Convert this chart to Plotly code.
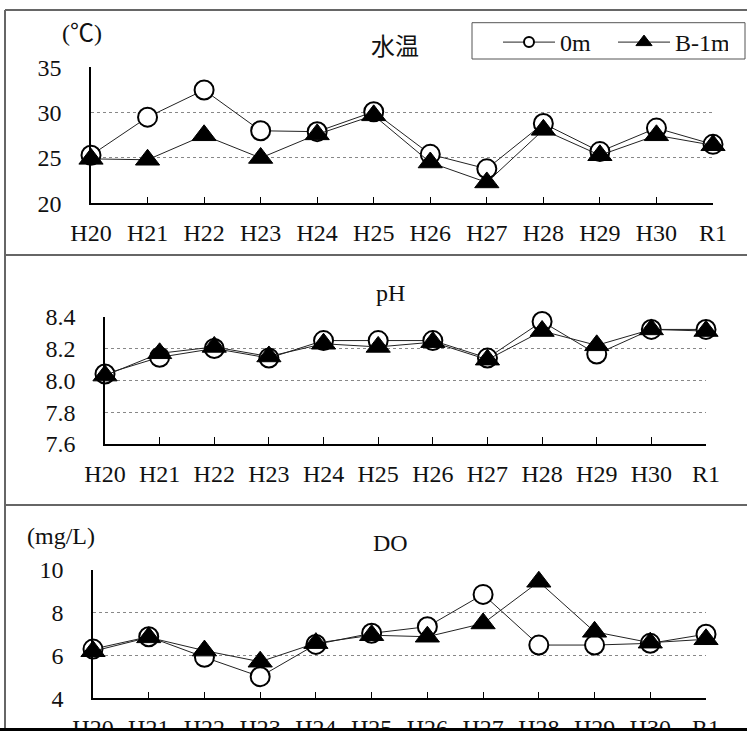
import plotly.graph_objects as go

W, H = 747, 731

categories = ["H20", "H21", "H22", "H23", "H24", "H25", "H26", "H27", "H28", "H29", "H30", "R1"]
temp_0m = [25.3, 29.5, 32.5, 28.0, 27.9, 30.1, 25.4, 23.8, 28.8, 25.7, 28.3, 26.5]
temp_b1m = [24.9, 24.8, 27.5, 25.0, 27.6, 29.7, 24.5, 22.3, 28.1, 25.3, 27.5, 26.4]
ph_0m = [8.04, 8.145, 8.20, 8.14, 8.25, 8.25, 8.25, 8.14, 8.37, 8.165, 8.32, 8.32]
ph_b1m = [8.03, 8.17, 8.21, 8.15, 8.23, 8.21, 8.24, 8.13, 8.31, 8.22, 8.32, 8.31]
do_0m = [6.3, 6.88, 5.92, 5.01, 6.52, 7.04, 7.35, 8.86, 6.49, 6.49, 6.57, 7.0]
do_b1m = [6.2, 6.85, 6.23, 5.71, 6.58, 6.95, 6.88, 7.5, 9.45, 7.11, 6.6, 6.76]
series_names = ["0m", "B-1m"]
panel_titles = ["水温", "pH", "DO"]
unit_labels = ["(℃)", "(mg/L)"]

FONT = "Liberation Serif"
FONT_CJK = "Liberation Serif, Noto Sans CJK JP"
FS = 24


def px(x):
    return x / W


def py(y):
    return 1 - y / H


xpos = list(range(len(categories)))

fig = go.Figure()

panels = [
    (temp_0m, temp_b1m, "x", "y"),
    (ph_0m, ph_b1m, "x2", "y2"),
    (do_0m, do_b1m, "x3", "y3"),
]

for s0, s1, xa, ya in panels:
    fig.add_trace(go.Scatter(
        x=xpos, y=s0, xaxis=xa, yaxis=ya, name=series_names[0], showlegend=False,
        mode="lines+markers", cliponaxis=False,
        line=dict(color="#222", width=1),
        marker=dict(symbol="circle", size=19, color="white", line=dict(color="black", width=2)),
    ))
    fig.add_trace(go.Scatter(
        x=xpos, y=s1, xaxis=xa, yaxis=ya, name=series_names[1], showlegend=False,
        mode="lines+markers", cliponaxis=False,
        line=dict(color="#222", width=1),
        marker=dict(symbol="triangle-up", size=21, color="black", line=dict(color="black", width=1)),
    ))

# legend entries (smaller legend symbols as in the original)
fig.add_trace(go.Scatter(
    x=[None], y=[None], name=series_names[0], mode="lines+markers",
    line=dict(color="#222", width=1),
    marker=dict(symbol="circle", size=10, color="white", line=dict(color="black", width=2)),
))
fig.add_trace(go.Scatter(
    x=[None], y=[None], name=series_names[1], mode="lines+markers",
    line=dict(color="#222", width=1),
    marker=dict(symbol="triangle-up", size=14, color="black", line=dict(color="black", width=1)),
))

# panel geometry in pixels: (left, right, top, bottom)
geo = [(91, 713, 67.3, 203.3), (105, 706, 316.7, 444), (93, 706, 570, 698.3)]
yranges = [[20, 35], [7.6, 8.4], [4, 10]]
dticks = [5, 0.2, 2]
fmts = ["d", ".1f", "d"]

axis_font = dict(family=FONT, size=FS, color="#111")
layout_axes = {}
for i, ((l, r, t, b), yr, dt, fm) in enumerate(zip(geo, yranges, dticks, fmts)):
    sx = "" if i == 0 else str(i + 1)
    layout_axes["xaxis" + sx] = dict(
        domain=[px(l), px(r)], anchor="y" + sx, range=[0, len(categories) - 1],
        tickmode="array", tickvals=xpos, ticktext=categories, automargin=False,
        showgrid=False, zeroline=False, showline=True, linecolor="black", linewidth=1.5,
        ticks="inside", ticklen=7, tickwidth=1, tickcolor="black",
        tickfont=axis_font, ticklabelstandoff=7,
    )
    layout_axes["yaxis" + sx] = dict(
        domain=[py(b), py(t)], anchor="x" + sx, range=yr, dtick=dt, tick0=yr[0],
        tickformat=fm, showgrid=True, gridcolor="#888", griddash="dot", gridwidth=1,
        zeroline=False, showline=True, linecolor="black", linewidth=1.5, ticks="",
        tickfont=axis_font, ticklabelstandoff=23, automargin=False,
    )

shapes = []
border = dict(color="#666", width=2)
for yy in [10, 255, 505]:
    shapes.append(dict(type="line", xref="paper", yref="paper", x0=px(5), x1=px(747), y0=py(yy), y1=py(yy), line=border))
shapes.append(dict(type="line", xref="paper", yref="paper", x0=px(5), x1=px(5), y0=py(10), y1=py(731), line=border))
shapes.append(dict(type="rect", xref="paper", yref="paper", x0=px(0), x1=px(747), y0=py(728), y1=py(731),
                   fillcolor="black", line=dict(width=0), layer="above"))
shapes.append(dict(type="rect", xref="paper", yref="paper", x0=px(472), x1=px(745), y0=py(22.7), y1=py(59),
                   fillcolor="rgba(0,0,0,0)", line=dict(color="#555", width=1)))

annots = []
def ann(text, x, y):
    annots.append(dict(text=text, x=px(x), y=py(y), xref="paper", yref="paper", showarrow=False,
                       xanchor="center", yanchor="middle", font=dict(family=FONT_CJK, size=FS, color="#111")))

ann(panel_titles[0], 395, 47)
ann(panel_titles[1], 391, 293)
ann(panel_titles[2], 391, 543)
ann(unit_labels[0], 82, 33)
ann(unit_labels[1], 61, 536)

fig.update_layout(
    template="none",
    width=W, height=H, margin=dict(l=0, r=0, t=0, b=0, autoexpand=False),
    paper_bgcolor="white", plot_bgcolor="white",
    font=dict(family=FONT, size=FS, color="#111"),
    showlegend=True,
    legend=dict(orientation="h", x=px(498), y=py(20), xanchor="left", yanchor="top",
                bgcolor="rgba(0,0,0,0)", borderwidth=0, font=dict(family=FONT, size=FS, color="#111"),
                itemwidth=52, entrywidth=48, entrywidthmode="pixels"),
    shapes=shapes, annotations=annots,
    **layout_axes,
)

fig.write_html("out.html", config={"displayModeBar": False},
               post_script="document.body.style.margin='0';document.body.style.overflow='hidden';")
